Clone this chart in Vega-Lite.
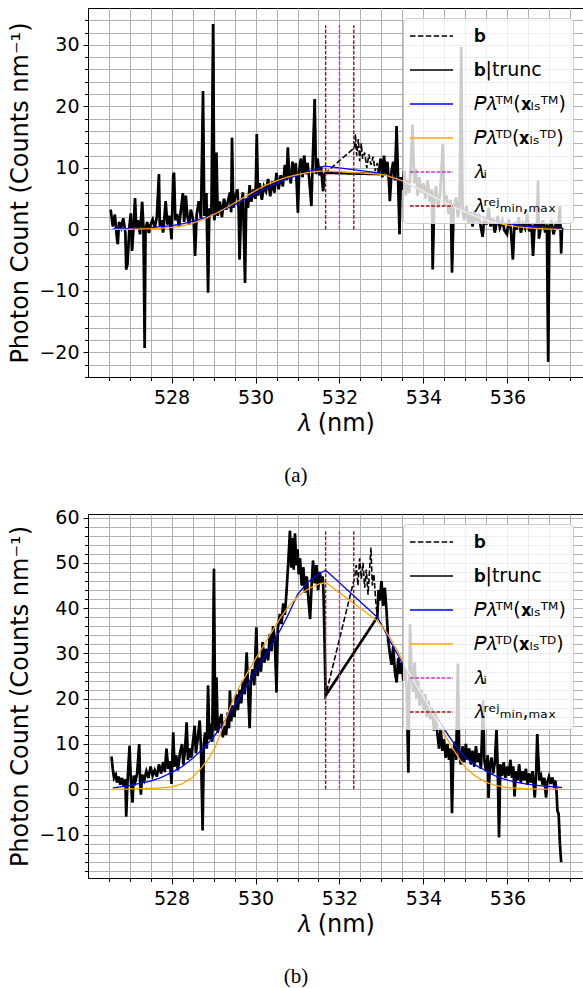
{
  "$schema": "https://vega.github.io/schema/vega-lite/v6.json",
  "padding": {"left": 8, "top": 7, "right": 0, "bottom": 0},
  "background": "white",
  "config": {
    "font": "DejaVu Sans",
    "view": {"stroke": "black", "strokeWidth": 1},
    "axis": {"domainColor": "black", "tickColor": "black", "labelColor": "black", "titleColor": "black", "labelFontSize": 19, "titleFontSize": 24, "titleFontWeight": "normal", "gridColor": "#b0b0b0", "gridWidth": 1, "labelOverlap": false, "labelFlush": false, "labelFont": "DejaVu Sans", "titleFont": "DejaVu Sans"}
  },
  "datasets": {
    "a_b": [
      {"x":526.55,"y":3.2},{"x":526.60,"y":0.5},{"x":526.65,"y":2.4},{"x":526.70,"y":-1.5},{"x":526.72,"y":-2.4},{"x":526.75,"y":1.2},{"x":526.80,"y":0.3},{"x":526.85,"y":1.8},{"x":526.90,"y":-0.5},{"x":526.92,"y":-6.5},{"x":526.95,"y":-5.7},{"x":527.00,"y":0.8},{"x":527.03,"y":2.6},{"x":527.06,"y":-3.5},{"x":527.10,"y":1.0},{"x":527.13,"y":5.1},{"x":527.16,"y":0.2},{"x":527.20,"y":1.5},{"x":527.25,"y":-0.8},{"x":527.30,"y":4.5},{"x":527.33,"y":0.5},{"x":527.36,"y":-19.3},{"x":527.38,"y":0.0},{"x":527.42,"y":1.2},{"x":527.46,"y":-0.6},{"x":527.50,"y":0.8},{"x":527.55,"y":1.6},{"x":527.60,"y":0.2},{"x":527.65,"y":2.0},{"x":527.70,"y":9.0},{"x":527.72,"y":0.6},{"x":527.76,"y":1.5},{"x":527.80,"y":-0.5},{"x":527.86,"y":4.6},{"x":527.90,"y":0.8},{"x":527.95,"y":2.2},{"x":528.00,"y":-1.6},{"x":528.04,"y":8.8},{"x":528.06,"y":9.2},{"x":528.09,"y":1.5},{"x":528.13,"y":2.5},{"x":528.18,"y":0.4},{"x":528.22,"y":3.0},{"x":528.27,"y":5.9},{"x":528.30,"y":1.2},{"x":528.34,"y":5.5},{"x":528.38,"y":2.0},{"x":528.42,"y":0.8},{"x":528.46,"y":3.2},{"x":528.50,"y":2.0},{"x":528.53,"y":1.0},{"x":528.56,"y":-4.3},{"x":528.60,"y":2.5},{"x":528.65,"y":4.6},{"x":528.70,"y":1.8},{"x":528.75,"y":22.5},{"x":528.78,"y":2.2},{"x":528.83,"y":5.9},{"x":528.87,"y":-10.3},{"x":528.90,"y":3.4},{"x":528.95,"y":2.5},{"x":528.99,"y":33.4},{"x":529.02,"y":1.5},{"x":529.05,"y":4.0},{"x":529.07,"y":12.5},{"x":529.10,"y":2.2},{"x":529.15,"y":4.5},{"x":529.20,"y":2.0},{"x":529.25,"y":5.0},{"x":529.30,"y":3.2},{"x":529.35,"y":4.8},{"x":529.39,"y":6.0},{"x":529.42,"y":2.8},{"x":529.44,"y":14.9},{"x":529.47,"y":3.5},{"x":529.52,"y":5.5},{"x":529.57,"y":6.5},{"x":529.60,"y":3.0},{"x":529.62,"y":-4.9},{"x":529.66,"y":4.2},{"x":529.70,"y":6.0},{"x":529.75,"y":-8.7},{"x":529.78,"y":5.0},{"x":529.82,"y":3.5},{"x":529.86,"y":7.2},{"x":529.90,"y":4.5},{"x":529.95,"y":6.5},{"x":530.00,"y":5.0},{"x":530.03,"y":15.5},{"x":530.06,"y":5.5},{"x":530.10,"y":7.5},{"x":530.15,"y":4.8},{"x":530.20,"y":7.0},{"x":530.25,"y":6.2},{"x":530.30,"y":8.2},{"x":530.35,"y":5.4},{"x":530.40,"y":7.8},{"x":530.45,"y":6.0},{"x":530.50,"y":9.2},{"x":530.55,"y":6.5},{"x":530.60,"y":8.8},{"x":530.65,"y":7.0},{"x":530.70,"y":10.5},{"x":530.74,"y":8.0},{"x":530.77,"y":13.3},{"x":530.80,"y":9.0},{"x":530.84,"y":7.5},{"x":530.88,"y":11.0},{"x":530.92,"y":8.6},{"x":530.96,"y":10.8},{"x":531.01,"y":2.7},{"x":531.04,"y":9.5},{"x":531.08,"y":11.5},{"x":531.12,"y":8.5},{"x":531.16,"y":12.0},{"x":531.20,"y":9.0},{"x":531.24,"y":10.8},{"x":531.28,"y":8.2},{"x":531.33,"y":3.8},{"x":531.36,"y":10.5},{"x":531.41,"y":21.2},{"x":531.44,"y":9.0},{"x":531.48,"y":11.5},{"x":531.52,"y":8.8},{"x":531.56,"y":10.2},{"x":531.61,"y":6.2},{"x":531.64,"y":9.0},{"x":531.67,"y":9.2},
      {"x":532.36,"y":13.3,"t":1},{"x":532.38,"y":15.5,"t":1},{"x":532.41,"y":12.0,"t":1},{"x":532.45,"y":14.7,"t":1},{"x":532.48,"y":11.1,"t":1},{"x":532.52,"y":14.0,"t":1},{"x":532.55,"y":11.5,"t":1},{"x":532.60,"y":12.5,"t":1},{"x":532.65,"y":10.0,"t":1},{"x":532.70,"y":12.2,"t":1},{"x":532.75,"y":10.5,"t":1},{"x":532.80,"y":11.8,"t":1},{"x":532.85,"y":9.5,"t":1},{"x":532.90,"y":10.8,"t":1},
      {"x":532.93,"y":9.0},{"x":532.98,"y":11.5},{"x":533.02,"y":8.5},{"x":533.06,"y":12.0},{"x":533.10,"y":9.0},{"x":533.14,"y":11.0},{"x":533.18,"y":7.5},{"x":533.20,"y":4.6},{"x":533.24,"y":9.5},{"x":533.28,"y":11.0},{"x":533.32,"y":8.0},{"x":533.36,"y":16.8},{"x":533.40,"y":7.0},{"x":533.43,"y":-0.8},{"x":533.46,"y":8.5},{"x":533.50,"y":6.5},{"x":533.54,"y":9.5},{"x":533.58,"y":5.5},{"x":533.62,"y":8.0},{"x":533.66,"y":6.0},{"x":533.70,"y":10.5},{"x":533.74,"y":17.0},{"x":533.78,"y":7.5},{"x":533.82,"y":9.8},{"x":533.86,"y":5.5},{"x":533.90,"y":8.5},{"x":533.95,"y":6.0},{"x":534.00,"y":7.5},{"x":534.05,"y":5.0},{"x":534.10,"y":8.0},{"x":534.15,"y":4.5},{"x":534.20,"y":6.5},{"x":534.22,"y":-6.5},{"x":534.26,"y":5.5},{"x":534.30,"y":7.0},{"x":534.35,"y":3.5},{"x":534.40,"y":6.0},{"x":534.46,"y":13.9},{"x":534.50,"y":4.0},{"x":534.55,"y":5.5},{"x":534.60,"y":2.5},{"x":534.65,"y":4.8},{"x":534.68,"y":-7.0},{"x":534.72,"y":3.5},{"x":534.78,"y":5.2},{"x":534.82,"y":2.0},{"x":534.86,"y":4.0},{"x":534.90,"y":29.6},{"x":534.93,"y":3.0},{"x":534.97,"y":1.5},{"x":535.02,"y":3.8},{"x":535.07,"y":1.0},{"x":535.12,"y":2.8},{"x":535.17,"y":0.5},{"x":535.22,"y":3.0},{"x":535.27,"y":1.2},{"x":535.32,"y":2.5},{"x":535.37,"y":0.2},{"x":535.41,"y":-1.2},{"x":535.45,"y":2.0},{"x":535.50,"y":0.8},{"x":535.55,"y":3.5},{"x":535.60,"y":0.5},{"x":535.65,"y":1.8},{"x":535.70,"y":-0.5},{"x":535.77,"y":2.2},{"x":535.82,"y":0.3},{"x":535.88,"y":1.5},{"x":535.93,"y":-0.2},{"x":535.99,"y":-0.8},{"x":536.03,"y":1.6},{"x":536.08,"y":0.2},{"x":536.13,"y":-4.9},{"x":536.17,"y":1.2},{"x":536.22,"y":0.0},{"x":536.27,"y":2.0},{"x":536.32,"y":-0.5},{"x":536.37,"y":1.0},{"x":536.42,"y":0.2},{"x":536.47,"y":2.5},{"x":536.52,"y":-0.3},{"x":536.57,"y":0.8},{"x":536.61,"y":-4.3},{"x":536.65,"y":1.0},{"x":536.70,"y":0.2},{"x":536.73,"y":7.9},{"x":536.75,"y":-1.5},{"x":536.80,"y":0.5},{"x":536.85,"y":1.5},{"x":536.90,"y":-0.5},{"x":536.94,"y":0.8},{"x":536.97,"y":-21.5},{"x":537.00,"y":0.5},{"x":537.05,"y":1.2},{"x":537.10,"y":-0.8},{"x":537.15,"y":0.8},{"x":537.20,"y":0.0},{"x":537.25,"y":3.8},{"x":537.28,"y":-3.9},{"x":537.30,"y":0.3}
    ],
    "a_fit": [
      {"s":"TM","x":526.6,"y":0.1},{"s":"TM","x":527.0,"y":0.15},{"s":"TM","x":527.5,"y":0.3},{"s":"TM","x":528.0,"y":0.6},{"s":"TM","x":528.25,"y":0.9},{"s":"TM","x":528.5,"y":1.3},{"s":"TM","x":528.75,"y":1.8},{"s":"TM","x":529.0,"y":2.4},{"s":"TM","x":529.25,"y":3.2},{"s":"TM","x":529.5,"y":4.0},{"s":"TM","x":529.75,"y":4.9},{"s":"TM","x":530.0,"y":5.8},{"s":"TM","x":530.25,"y":6.7},{"s":"TM","x":530.5,"y":7.5},{"s":"TM","x":530.75,"y":8.2},{"s":"TM","x":531.0,"y":8.8},{"s":"TM","x":531.25,"y":9.4},{"s":"TM","x":531.5,"y":9.9},{"s":"TM","x":531.65,"y":10.3},{"s":"TM","x":532.93,"y":9.2},{"s":"TM","x":533.1,"y":8.8},{"s":"TM","x":533.3,"y":8.3},{"s":"TM","x":533.5,"y":7.8},{"s":"TM","x":533.75,"y":7.0},{"s":"TM","x":534.0,"y":6.1},{"s":"TM","x":534.25,"y":5.3},{"s":"TM","x":534.5,"y":4.4},{"s":"TM","x":534.75,"y":3.7},{"s":"TM","x":535.0,"y":3.0},{"s":"TM","x":535.25,"y":2.4},{"s":"TM","x":535.5,"y":1.9},{"s":"TM","x":535.75,"y":1.4},{"s":"TM","x":536.0,"y":1.0},{"s":"TM","x":536.25,"y":0.7},{"s":"TM","x":536.5,"y":0.5},{"s":"TM","x":536.75,"y":0.35},{"s":"TM","x":537.0,"y":0.25},{"s":"TM","x":537.3,"y":0.2},
      {"s":"TD","x":526.6,"y":0.0},{"s":"TD","x":527.0,"y":0.02},{"s":"TD","x":527.5,"y":0.1},{"s":"TD","x":528.0,"y":0.3},{"s":"TD","x":528.25,"y":0.55},{"s":"TD","x":528.5,"y":1.0},{"s":"TD","x":528.75,"y":1.6},{"s":"TD","x":529.0,"y":2.4},{"s":"TD","x":529.25,"y":3.3},{"s":"TD","x":529.5,"y":4.3},{"s":"TD","x":529.75,"y":5.3},{"s":"TD","x":530.0,"y":6.3},{"s":"TD","x":530.25,"y":7.2},{"s":"TD","x":530.5,"y":7.9},{"s":"TD","x":530.75,"y":8.5},{"s":"TD","x":531.0,"y":8.9},{"s":"TD","x":531.25,"y":9.25},{"s":"TD","x":531.5,"y":9.45},{"s":"TD","x":531.65,"y":9.5},{"s":"TD","x":532.93,"y":9.0},{"s":"TD","x":533.1,"y":8.8},{"s":"TD","x":533.3,"y":8.35},{"s":"TD","x":533.5,"y":7.9},{"s":"TD","x":533.75,"y":7.1},{"s":"TD","x":534.0,"y":6.2},{"s":"TD","x":534.25,"y":5.3},{"s":"TD","x":534.5,"y":4.4},{"s":"TD","x":534.75,"y":3.55},{"s":"TD","x":535.0,"y":2.8},{"s":"TD","x":535.25,"y":2.1},{"s":"TD","x":535.5,"y":1.5},{"s":"TD","x":535.75,"y":1.05},{"s":"TD","x":536.0,"y":0.7},{"s":"TD","x":536.25,"y":0.4},{"s":"TD","x":536.5,"y":0.25},{"s":"TD","x":536.75,"y":0.12},{"s":"TD","x":537.0,"y":0.05},{"s":"TD","x":537.3,"y":0.0}
    ],
    "a_v": [
      {"s":"rej","x":531.67,"y":0,"y2":33.2},{"s":"li","x":532.0,"y":0,"y2":33.2},{"s":"rej","x":532.34,"y":0,"y2":33.2}
    ],
    "b_b": [
      {"x":526.57,"y":7.2},{"x":526.60,"y":4.5},{"x":526.63,"y":2.5},{"x":526.67,"y":3.2},{"x":526.70,"y":1.5},{"x":526.74,"y":2.8},{"x":526.78,"y":1.0},{"x":526.82,"y":2.5},{"x":526.86,"y":0.8},{"x":526.90,"y":2.2},{"x":526.92,"y":-6.0},{"x":526.95,"y":1.5},{"x":527.00,"y":9.6},{"x":527.03,"y":2.0},{"x":527.07,"y":-2.9},{"x":527.10,"y":3.0},{"x":527.14,"y":1.8},{"x":527.18,"y":3.5},{"x":527.23,"y":10.0},{"x":527.25,"y":2.0},{"x":527.27,"y":-1.2},{"x":527.30,"y":3.2},{"x":527.35,"y":2.0},{"x":527.40,"y":4.0},{"x":527.45,"y":2.5},{"x":527.50,"y":5.0},{"x":527.55,"y":3.0},{"x":527.60,"y":4.2},{"x":527.65,"y":2.8},{"x":527.70,"y":5.5},{"x":527.75,"y":3.5},{"x":527.80,"y":6.0},{"x":527.84,"y":3.8},{"x":527.88,"y":9.0},{"x":527.92,"y":4.5},{"x":527.96,"y":6.2},{"x":528.00,"y":1.2},{"x":528.04,"y":12.6},{"x":528.07,"y":5.0},{"x":528.11,"y":7.5},{"x":528.15,"y":4.2},{"x":528.20,"y":8.0},{"x":528.25,"y":10.0},{"x":528.28,"y":5.5},{"x":528.32,"y":8.5},{"x":528.36,"y":14.8},{"x":528.39,"y":6.5},{"x":528.43,"y":9.0},{"x":528.47,"y":7.0},{"x":528.51,"y":10.5},{"x":528.55,"y":14.0},{"x":528.58,"y":8.0},{"x":528.62,"y":11.0},{"x":528.67,"y":15.2},{"x":528.70,"y":9.5},{"x":528.74,"y":-9.1},{"x":528.77,"y":10.0},{"x":528.80,"y":12.5},{"x":528.84,"y":9.0},{"x":528.87,"y":22.9},{"x":528.90,"y":11.0},{"x":528.94,"y":14.5},{"x":528.97,"y":10.5},{"x":529.01,"y":48.7},{"x":529.04,"y":13.0},{"x":529.07,"y":24.7},{"x":529.10,"y":12.5},{"x":529.14,"y":15.0},{"x":529.19,"y":16.6},{"x":529.22,"y":11.5},{"x":529.26,"y":14.0},{"x":529.30,"y":12.0},{"x":529.34,"y":17.0},{"x":529.37,"y":13.5},{"x":529.39,"y":21.8},{"x":529.42,"y":15.0},{"x":529.46,"y":18.5},{"x":529.50,"y":16.0},{"x":529.54,"y":21.0},{"x":529.58,"y":17.5},{"x":529.62,"y":22.0},{"x":529.66,"y":19.0},{"x":529.70,"y":24.0},{"x":529.74,"y":21.0},{"x":529.79,"y":30.2},{"x":529.82,"y":22.5},{"x":529.86,"y":13.5},{"x":529.89,"y":24.0},{"x":529.93,"y":26.5},{"x":529.97,"y":23.0},{"x":530.02,"y":35.8},{"x":530.05,"y":25.0},{"x":530.09,"y":29.0},{"x":530.13,"y":26.0},{"x":530.17,"y":32.5},{"x":530.21,"y":28.0},{"x":530.25,"y":31.0},{"x":530.30,"y":28.5},{"x":530.34,"y":34.3},{"x":530.38,"y":30.5},{"x":530.42,"y":36.0},{"x":530.46,"y":33.0},{"x":530.50,"y":21.4},{"x":530.53,"y":35.5},{"x":530.58,"y":38.7},{"x":530.62,"y":36.5},{"x":530.66,"y":41.0},{"x":530.70,"y":38.5},{"x":530.74,"y":43.9},{"x":530.78,"y":50.1},{"x":530.82,"y":57.1},{"x":530.85,"y":49.0},{"x":530.88,"y":55.5},{"x":530.91,"y":48.5},{"x":530.94,"y":56.5},{"x":530.97,"y":49.5},{"x":531.00,"y":53.0},{"x":531.03,"y":47.5},{"x":531.06,"y":51.0},{"x":531.10,"y":45.0},{"x":531.14,"y":49.0},{"x":531.18,"y":43.5},{"x":531.22,"y":47.0},{"x":531.26,"y":42.0},{"x":531.30,"y":37.6},{"x":531.33,"y":44.0},{"x":531.37,"y":50.5},{"x":531.41,"y":45.5},{"x":531.45,"y":49.5},{"x":531.49,"y":44.0},{"x":531.53,"y":48.0},{"x":531.57,"y":45.5},{"x":531.60,"y":47.0},{"x":531.62,"y":43.0},{"x":531.64,"y":35.0},{"x":531.66,"y":25.0},{"x":531.67,"y":20.7},
      {"x":532.36,"y":46.8,"t":1},{"x":532.40,"y":49.5,"t":1},{"x":532.44,"y":45.0,"t":1},{"x":532.48,"y":51.0,"t":1},{"x":532.52,"y":46.5,"t":1},{"x":532.56,"y":50.0,"t":1},{"x":532.60,"y":44.5,"t":1},{"x":532.64,"y":48.5,"t":1},{"x":532.68,"y":43.0,"t":1},{"x":532.72,"y":49.0,"t":1},{"x":532.75,"y":53.4,"t":1},{"x":532.78,"y":45.0,"t":1},{"x":532.82,"y":47.5,"t":1},{"x":532.86,"y":42.0,"t":1},
      {"x":532.90,"y":38.0},{"x":532.93,"y":44.0},{"x":532.96,"y":41.7},{"x":533.00,"y":46.0},{"x":533.04,"y":40.5},{"x":533.08,"y":44.5},{"x":533.12,"y":39.5},{"x":533.16,"y":32.8},{"x":533.20,"y":30.0},{"x":533.24,"y":27.5},{"x":533.28,"y":31.5},{"x":533.32,"y":26.0},{"x":533.36,"y":23.6},{"x":533.40,"y":29.0},{"x":533.44,"y":25.5},{"x":533.48,"y":28.0},{"x":533.52,"y":24.0},{"x":533.56,"y":26.5},{"x":533.60,"y":22.5},{"x":533.64,"y":3.7},{"x":533.68,"y":36.5},{"x":533.72,"y":25.0},{"x":533.76,"y":21.5},{"x":533.79,"y":28.0},{"x":533.83,"y":20.0},{"x":533.87,"y":24.0},{"x":533.91,"y":18.5},{"x":533.95,"y":22.0},{"x":534.00,"y":17.5},{"x":534.04,"y":21.0},{"x":534.08,"y":16.0},{"x":534.12,"y":19.5},{"x":534.16,"y":15.5},{"x":534.20,"y":18.0},{"x":534.25,"y":13.0},{"x":534.29,"y":17.0},{"x":534.33,"y":12.5},{"x":534.37,"y":9.0},{"x":534.41,"y":13.5},{"x":534.45,"y":8.5},{"x":534.49,"y":11.0},{"x":534.53,"y":7.0},{"x":534.57,"y":10.0},{"x":534.61,"y":6.5},{"x":534.65,"y":9.0},{"x":534.68,"y":-5.3},{"x":534.71,"y":8.0},{"x":534.75,"y":10.5},{"x":534.78,"y":6.5},{"x":534.82,"y":27.7},{"x":534.85,"y":8.5},{"x":534.89,"y":5.5},{"x":534.93,"y":9.5},{"x":534.97,"y":6.0},{"x":535.01,"y":10.0},{"x":535.05,"y":6.5},{"x":535.09,"y":9.0},{"x":535.13,"y":5.5},{"x":535.17,"y":8.5},{"x":535.21,"y":5.0},{"x":535.25,"y":9.5},{"x":535.29,"y":6.0},{"x":535.33,"y":8.0},{"x":535.37,"y":4.5},{"x":535.42,"y":19.6},{"x":535.45,"y":6.5},{"x":535.49,"y":4.0},{"x":535.53,"y":7.5},{"x":535.55,"y":-1.9},{"x":535.58,"y":5.0},{"x":535.62,"y":7.0},{"x":535.66,"y":3.5},{"x":535.70,"y":6.0},{"x":535.74,"y":13.3},{"x":535.77,"y":4.0},{"x":535.80,"y":-10.6},{"x":535.83,"y":5.5},{"x":535.87,"y":3.0},{"x":535.91,"y":6.0},{"x":535.95,"y":2.5},{"x":535.99,"y":5.0},{"x":536.03,"y":3.0},{"x":536.07,"y":6.5},{"x":536.11,"y":2.5},{"x":536.14,"y":5.0},{"x":536.17,"y":-1.6},{"x":536.20,"y":4.0},{"x":536.24,"y":2.0},{"x":536.28,"y":5.5},{"x":536.32,"y":1.5},{"x":536.36,"y":4.0},{"x":536.40,"y":2.0},{"x":536.44,"y":4.5},{"x":536.48,"y":1.0},{"x":536.52,"y":3.5},{"x":536.56,"y":1.5},{"x":536.60,"y":4.0},{"x":536.65,"y":-1.8},{"x":536.68,"y":2.5},{"x":536.71,"y":12.2},{"x":536.76,"y":2.0},{"x":536.80,"y":3.0},{"x":536.84,"y":1.0},{"x":536.88,"y":2.5},{"x":536.92,"y":-1.8},{"x":536.95,"y":1.5},{"x":536.99,"y":2.8},{"x":537.03,"y":1.2},{"x":537.07,"y":2.6},{"x":537.11,"y":1.0},{"x":537.14,"y":1.9},{"x":537.17,"y":-0.5},{"x":537.19,"y":-4.7},{"x":537.22,"y":-5.5},{"x":537.25,"y":-12.0},{"x":537.28,"y":-16.1}
    ],
    "b_fit": [
      {"s":"TM","x":526.6,"y":0.3},{"s":"TM","x":527.0,"y":0.8},{"s":"TM","x":527.5,"y":1.8},{"s":"TM","x":527.75,"y":2.6},{"s":"TM","x":528.0,"y":3.7},{"s":"TM","x":528.25,"y":5.0},{"s":"TM","x":528.5,"y":6.8},{"s":"TM","x":528.75,"y":9.0},{"s":"TM","x":529.0,"y":11.5},{"s":"TM","x":529.25,"y":14.8},{"s":"TM","x":529.5,"y":18.5},{"s":"TM","x":529.75,"y":22.2},{"s":"TM","x":530.0,"y":26.0},{"s":"TM","x":530.25,"y":29.8},{"s":"TM","x":530.5,"y":33.6},{"s":"TM","x":530.75,"y":38.0},{"s":"TM","x":531.0,"y":43.0},{"s":"TM","x":531.25,"y":45.8},{"s":"TM","x":531.5,"y":47.5},{"s":"TM","x":531.67,"y":48.4},{"s":"TM","x":532.9,"y":38.0},{"s":"TM","x":533.05,"y":35.5},{"s":"TM","x":533.2,"y":32.8},{"s":"TM","x":533.4,"y":29.5},{"s":"TM","x":533.55,"y":26.9},{"s":"TM","x":533.75,"y":23.5},{"s":"TM","x":534.0,"y":20.3},{"s":"TM","x":534.2,"y":17.5},{"s":"TM","x":534.4,"y":14.8},{"s":"TM","x":534.55,"y":12.5},{"s":"TM","x":534.7,"y":10.5},{"s":"TM","x":534.85,"y":8.6},{"s":"TM","x":535.0,"y":7.0},{"s":"TM","x":535.25,"y":5.3},{"s":"TM","x":535.5,"y":4.0},{"s":"TM","x":535.7,"y":3.0},{"s":"TM","x":535.9,"y":2.3},{"s":"TM","x":536.1,"y":1.8},{"s":"TM","x":536.3,"y":1.4},{"s":"TM","x":536.5,"y":1.1},{"s":"TM","x":536.75,"y":0.8},{"s":"TM","x":537.0,"y":0.6},{"s":"TM","x":537.3,"y":0.4},
      {"s":"TD","x":526.6,"y":0.0},{"s":"TD","x":527.0,"y":0.05},{"s":"TD","x":527.5,"y":0.2},{"s":"TD","x":527.75,"y":0.3},{"s":"TD","x":528.0,"y":0.5},{"s":"TD","x":528.25,"y":1.2},{"s":"TD","x":528.5,"y":2.6},{"s":"TD","x":528.7,"y":4.6},{"s":"TD","x":528.9,"y":7.0},{"s":"TD","x":529.05,"y":9.5},{"s":"TD","x":529.15,"y":12.0},{"s":"TD","x":529.3,"y":15.8},{"s":"TD","x":529.5,"y":20.5},{"s":"TD","x":529.65,"y":23.3},{"s":"TD","x":529.8,"y":25.6},{"s":"TD","x":530.0,"y":28.8},{"s":"TD","x":530.2,"y":31.8},{"s":"TD","x":530.4,"y":35.0},{"s":"TD","x":530.6,"y":38.0},{"s":"TD","x":530.8,"y":40.5},{"s":"TD","x":531.0,"y":42.5},{"s":"TD","x":531.15,"y":43.6},{"s":"TD","x":531.3,"y":44.5},{"s":"TD","x":531.5,"y":45.3},{"s":"TD","x":531.67,"y":45.7},{"s":"TD","x":532.9,"y":37.2},{"s":"TD","x":533.05,"y":35.6},{"s":"TD","x":533.2,"y":33.5},{"s":"TD","x":533.4,"y":30.3},{"s":"TD","x":533.55,"y":27.5},{"s":"TD","x":533.75,"y":24.2},{"s":"TD","x":534.0,"y":20.5},{"s":"TD","x":534.2,"y":17.0},{"s":"TD","x":534.4,"y":13.8},{"s":"TD","x":534.55,"y":11.3},{"s":"TD","x":534.7,"y":9.0},{"s":"TD","x":534.85,"y":6.8},{"s":"TD","x":535.0,"y":4.8},{"s":"TD","x":535.25,"y":2.8},{"s":"TD","x":535.5,"y":1.5},{"s":"TD","x":535.7,"y":0.9},{"s":"TD","x":535.9,"y":0.5},{"s":"TD","x":536.1,"y":0.3},{"s":"TD","x":536.3,"y":0.2},{"s":"TD","x":536.5,"y":0.1},{"s":"TD","x":536.75,"y":0.05},{"s":"TD","x":537.0,"y":0.02},{"s":"TD","x":537.3,"y":0.0}
    ],
    "b_v": [
      {"s":"rej","x":531.67,"y":0,"y2":57.1},{"s":"li","x":532.0,"y":0,"y2":57.1},{"s":"rej","x":532.34,"y":0,"y2":57.1}
    ]
  },
  "spacing": 21,
  "resolve": {"scale": {"color": "independent", "strokeDash": "independent"}, "legend": {"color": "independent", "strokeDash": "independent"}},
  "vconcat": [
    {
      "width": 495, "height": 369,
      "title": {"text": "(a)", "orient": "bottom", "frame": "bounds", "anchor": "middle", "font": "Liberation Serif", "fontSize": 21, "fontWeight": "normal", "offset": 30, "color": "black"},
      "encoding": {
        "x": {"field": "x", "type": "quantitative", "scale": {"domain": [526.01, 537.8], "nice": false, "zero": false},
          "axis": {"title": "\ud835\udf06 (nm)", "values": [526.5,527,527.5,528,528.5,529,529.5,530,530.5,531,531.5,532,532.5,533,533.5,534,534.5,535,535.5,536,536.5,537,537.5], "format": ".0f", "labelExpr": "datum.value % 2 == 0 ? datum.label : ''", "tickSize": {"condition": {"test": "datum.value % 2 == 0", "value": 6}, "value": 3.5}, "labelPadding": 5, "titlePadding": 4, "grid": true}},
        "y": {"field": "y", "type": "quantitative", "scale": {"domain": [-24, 36], "nice": false, "zero": false},
          "axis": {"title": "Photon Count (Counts nm\u207b\u00b9)", "values": [-24,-22,-20,-18,-16,-14,-12,-10,-8,-6,-4,-2,0,2,4,6,8,10,12,14,16,18,20,22,24,26,28,30,32,34], "format": "d", "labelExpr": "datum.value % 10 == 0 ? datum.label : ''", "tickSize": {"condition": {"test": "datum.value % 10 == 0", "value": 5}, "value": 3.5}, "labelPadding": 4, "titlePadding": 6, "grid": true}}
      },
      "layer": [
        {"data": {"name": "a_b"}, "mark": {"type": "line", "clip": true, "strokeWidth": 1.6},
         "encoding": {"color": {"datum": "b", "type": "nominal", "title": null, "scale": {"domain": ["b","b|trunc","TM","TD","li","rej"], "range": ["black","black","blue","orange","#cc30cc","#a01010"]},
                        "legend": {"title": null, "orient": "top-right", "offset": 10, "symbolType": "M-2.15,0H2.15", "symbolSize": 400, "symbolOffset": 10.5, "symbolStrokeWidth": 1.6, "labelFontSize": 19, "labelFont": "DejaVu Sans", "labelColor": "black", "labelOffset": 31, "padding": 7, "rowPadding": 13, "fillColor": "rgba(255,255,255,0.8)", "strokeColor": "#cccccc", "cornerRadius": 4, "labelLimit": 300, "zindex": 1,
                          "labelExpr": "datum.label == 'b' ? '\ud835\udc1b' : datum.label == 'b|trunc' ? '\ud835\udc1b|trunc' : datum.label == 'TM' ? '\ud835\udc43\ud835\udf06\u1d40\u1d39(\ud835\udc31\u2097\u209b\u1d40\u1d39)' : datum.label == 'TD' ? '\ud835\udc43\ud835\udf06\u1d40\u1d30(\ud835\udc31\u2097\u209b\u1d40\u1d30)' : datum.label == 'li' ? '\ud835\udf06\u1d62' : '\ud835\udf06\u02b3\u1d49\u02b2\u2098\u1d62\u2099,\u2098\u2090\u2093'"}},
                      "strokeDash": {"datum": "b", "type": "nominal", "title": null, "scale": {"domain": ["b","b|trunc","TM","TD","li","rej"], "range": [[5.5,2.4],[1,0],[1,0],[1,0],[3.7,1.6],[3.7,1.6]]},
                        "legend": {"title": null, "orient": "top-right", "offset": 10, "symbolType": "M-2.15,0H2.15", "symbolSize": 400, "symbolOffset": 10.5, "symbolStrokeWidth": 1.6, "labelFontSize": 19, "labelFont": "DejaVu Sans", "labelColor": "black", "labelOffset": 31, "padding": 7, "rowPadding": 13, "fillColor": "rgba(255,255,255,0.8)", "strokeColor": "#cccccc", "cornerRadius": 4, "labelLimit": 300, "zindex": 1,
                          "labelExpr": "datum.label == 'b' ? '\ud835\udc1b' : datum.label == 'b|trunc' ? '\ud835\udc1b|trunc' : datum.label == 'TM' ? '\ud835\udc43\ud835\udf06\u1d40\u1d39(\ud835\udc31\u2097\u209b\u1d40\u1d39)' : datum.label == 'TD' ? '\ud835\udc43\ud835\udf06\u1d40\u1d30(\ud835\udc31\u2097\u209b\u1d40\u1d30)' : datum.label == 'li' ? '\ud835\udf06\u1d62' : '\ud835\udf06\u02b3\u1d49\u02b2\u2098\u1d62\u2099,\u2098\u2090\u2093'"}}}},
        {"data": {"name": "a_b"}, "transform": [{"filter": "datum.t != 1"}], "mark": {"type": "line", "clip": true, "strokeWidth": 2.7},
         "encoding": {"color": {"datum": "b|trunc", "type": "nominal", "title": null}, "strokeDash": {"datum": "b|trunc", "type": "nominal", "title": null}}},
        {"data": {"name": "a_fit"}, "mark": {"type": "line", "clip": true, "strokeWidth": 1.3},
         "encoding": {"color": {"field": "s", "type": "nominal", "title": null}, "strokeDash": {"field": "s", "type": "nominal", "title": null}}},
        {"data": {"name": "a_v"}, "mark": {"type": "rule", "clip": true, "strokeWidth": 1.4},
         "encoding": {"y2": {"field": "y2"}, "color": {"field": "s", "type": "nominal", "title": null}, "strokeDash": {"field": "s", "type": "nominal", "title": null}}}
      ]
    },
    {
      "width": 495, "height": 364,
      "title": {"text": "(b)", "orient": "bottom", "frame": "bounds", "anchor": "middle", "font": "Liberation Serif", "fontSize": 21, "fontWeight": "normal", "offset": 30, "color": "black"},
      "encoding": {
        "x": {"field": "x", "type": "quantitative", "scale": {"domain": [526.01, 537.8], "nice": false, "zero": false},
          "axis": {"title": "\ud835\udf06 (nm)", "values": [526.5,527,527.5,528,528.5,529,529.5,530,530.5,531,531.5,532,532.5,533,533.5,534,534.5,535,535.5,536,536.5,537,537.5], "format": ".0f", "labelExpr": "datum.value % 2 == 0 ? datum.label : ''", "tickSize": {"condition": {"test": "datum.value % 2 == 0", "value": 6}, "value": 3.5}, "labelPadding": 5, "titlePadding": 4, "grid": true}},
        "y": {"field": "y", "type": "quantitative", "scale": {"domain": [-19.6, 60.8], "nice": false, "zero": false},
          "axis": {"title": "Photon Count (Counts nm\u207b\u00b9)", "values": [-18,-16,-14,-12,-10,-8,-6,-4,-2,0,2,4,6,8,10,12,14,16,18,20,22,24,26,28,30,32,34,36,38,40,42,44,46,48,50,52,54,56,58,60], "format": "d", "labelExpr": "datum.value % 10 == 0 ? datum.label : ''", "tickSize": {"condition": {"test": "datum.value % 10 == 0", "value": 5}, "value": 3.5}, "labelPadding": 4, "titlePadding": 6, "grid": true}}
      },
      "layer": [
        {"data": {"name": "b_b"}, "mark": {"type": "line", "clip": true, "strokeWidth": 1.6},
         "encoding": {"color": {"datum": "b", "type": "nominal", "title": null, "scale": {"domain": ["b","b|trunc","TM","TD","li","rej"], "range": ["black","black","blue","orange","#cc30cc","#a01010"]},
                        "legend": {"title": null, "orient": "top-right", "offset": 10, "symbolType": "M-2.15,0H2.15", "symbolSize": 400, "symbolOffset": 10.5, "symbolStrokeWidth": 1.6, "labelFontSize": 19, "labelFont": "DejaVu Sans", "labelColor": "black", "labelOffset": 31, "padding": 7, "rowPadding": 13, "fillColor": "rgba(255,255,255,0.8)", "strokeColor": "#cccccc", "cornerRadius": 4, "labelLimit": 300, "zindex": 1,
                          "labelExpr": "datum.label == 'b' ? '\ud835\udc1b' : datum.label == 'b|trunc' ? '\ud835\udc1b|trunc' : datum.label == 'TM' ? '\ud835\udc43\ud835\udf06\u1d40\u1d39(\ud835\udc31\u2097\u209b\u1d40\u1d39)' : datum.label == 'TD' ? '\ud835\udc43\ud835\udf06\u1d40\u1d30(\ud835\udc31\u2097\u209b\u1d40\u1d30)' : datum.label == 'li' ? '\ud835\udf06\u1d62' : '\ud835\udf06\u02b3\u1d49\u02b2\u2098\u1d62\u2099,\u2098\u2090\u2093'"}},
                      "strokeDash": {"datum": "b", "type": "nominal", "title": null, "scale": {"domain": ["b","b|trunc","TM","TD","li","rej"], "range": [[5.5,2.4],[1,0],[1,0],[1,0],[3.7,1.6],[3.7,1.6]]},
                        "legend": {"title": null, "orient": "top-right", "offset": 10, "symbolType": "M-2.15,0H2.15", "symbolSize": 400, "symbolOffset": 10.5, "symbolStrokeWidth": 1.6, "labelFontSize": 19, "labelFont": "DejaVu Sans", "labelColor": "black", "labelOffset": 31, "padding": 7, "rowPadding": 13, "fillColor": "rgba(255,255,255,0.8)", "strokeColor": "#cccccc", "cornerRadius": 4, "labelLimit": 300, "zindex": 1,
                          "labelExpr": "datum.label == 'b' ? '\ud835\udc1b' : datum.label == 'b|trunc' ? '\ud835\udc1b|trunc' : datum.label == 'TM' ? '\ud835\udc43\ud835\udf06\u1d40\u1d39(\ud835\udc31\u2097\u209b\u1d40\u1d39)' : datum.label == 'TD' ? '\ud835\udc43\ud835\udf06\u1d40\u1d30(\ud835\udc31\u2097\u209b\u1d40\u1d30)' : datum.label == 'li' ? '\ud835\udf06\u1d62' : '\ud835\udf06\u02b3\u1d49\u02b2\u2098\u1d62\u2099,\u2098\u2090\u2093'"}}}},
        {"data": {"name": "b_b"}, "transform": [{"filter": "datum.t != 1"}], "mark": {"type": "line", "clip": true, "strokeWidth": 2.7},
         "encoding": {"color": {"datum": "b|trunc", "type": "nominal", "title": null}, "strokeDash": {"datum": "b|trunc", "type": "nominal", "title": null}}},
        {"data": {"name": "b_fit"}, "mark": {"type": "line", "clip": true, "strokeWidth": 1.3},
         "encoding": {"color": {"field": "s", "type": "nominal", "title": null}, "strokeDash": {"field": "s", "type": "nominal", "title": null}}},
        {"data": {"name": "b_v"}, "mark": {"type": "rule", "clip": true, "strokeWidth": 1.4},
         "encoding": {"y2": {"field": "y2"}, "color": {"field": "s", "type": "nominal", "title": null}, "strokeDash": {"field": "s", "type": "nominal", "title": null}}}
      ]
    }
  ]
}
